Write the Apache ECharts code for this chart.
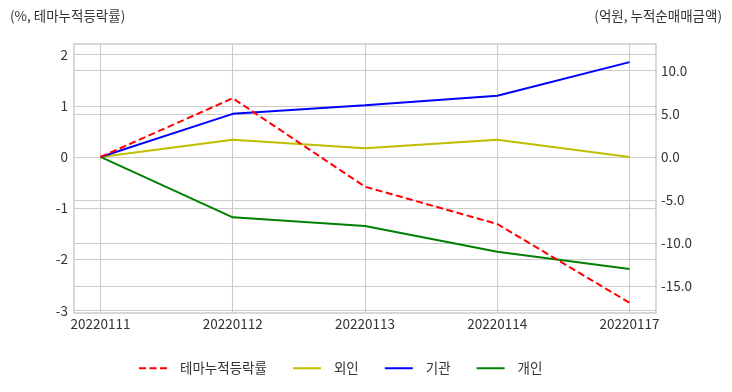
<!DOCTYPE html>
<html><head><meta charset="utf-8">
<script src="https://cdn.jsdelivr.net/npm/echarts@6/dist/echarts.min.js"></script>
<style>html,body{margin:0;padding:0;background:#fff}#c{width:732px;height:392px}</style>
</head><body><div id="c"></div>
<script>
const categories = ['20220111','20220112','20220113','20220114','20220117'];
const themeReturn = [0, 1.15, -0.58, -1.31, -2.85];
const foreign = [0, 2.0, 1.0, 2.0, 0];
const institution = [0, 5.0, 6.0, 7.1, 11.0];
const individual = [0, -7.0, -8.0, -11.0, -13.0];
const leftTicks = [-3, -2, -1, 0, 1, 2];
const rightTicks = [-15, -10, -5, 0, 5, 10];
const seriesNames = ['테마누적등락률', '외인', '기관', '개인'];

const font = "'Noto Sans CJK KR', 'Noto Sans', sans-serif";
const toPairs = arr => arr.map((v, i) => [i, v]);
const xIdx = categories.map((c, i) => i);

const chart = echarts.init(document.getElementById('c'));
chart.setOption({
  animation: false,
  backgroundColor: '#ffffff',
  textStyle: {fontFamily: font},
  title: [
    {text: '(%, 테마누적등락률)', left: 10, top: 9, padding: 0,
     textStyle: {fontSize: 13.5, fontWeight: 'normal', color: '#333', fontFamily: font}},
    {text: '(억원, 누적순매매금액)', right: 10, top: 9, padding: 0,
     textStyle: {fontSize: 13.5, fontWeight: 'normal', color: '#333', fontFamily: font}}
  ],
  grid: {left: 74, right: 76, top: 44, bottom: 79, show: true,
         borderColor: '#cccccc', borderWidth: 1.5, backgroundColor: 'transparent'},
  legend: {
    bottom: 17, left: 138, padding: 0, itemWidth: 28, itemHeight: 14, itemGap: 25,
    data: seriesNames,
    itemStyle: {opacity: 0},
    textStyle: {fontSize: 13.5, color: '#333', fontFamily: font, padding: [0, 0, 0, 8]}
  },
  xAxis: {
    type: 'value', min: -0.2, max: 4.2,
    axisLine: {show: false}, axisTick: {show: false, customValues: xIdx},
    axisLabel: {customValues: xIdx, formatter: v => categories[Math.round(v)] || '',
      fontSize: 13.5, color: '#333', margin: 4, fontFamily: font},
    splitLine: {show: true, lineStyle: {color: '#cccccc', width: 1.1}}
  },
  yAxis: [
    {type: 'value', min: -3.05, max: 2.21,
     axisLine: {show: false}, axisTick: {show: false, customValues: leftTicks},
     axisLabel: {customValues: leftTicks, fontSize: 13.5, color: '#333', margin: 6, fontFamily: font},
     splitLine: {show: true, lineStyle: {color: '#cccccc', width: 1.1}}},
    {type: 'value', min: -18.1, max: 13.1, position: 'right',
     axisLine: {show: false}, axisTick: {show: false, customValues: rightTicks},
     axisLabel: {customValues: rightTicks, formatter: v => v.toFixed(1), fontSize: 13.5, color: '#333', margin: 5, fontFamily: font},
     splitLine: {show: true, lineStyle: {color: '#cccccc', width: 1.1}}}
  ],
  series: [
    {name: seriesNames[1], type: 'line', yAxisIndex: 1, data: toPairs(foreign), symbol: 'none',
     lineStyle: {color: '#bfbf00', width: 2}, itemStyle: {color: '#bfbf00'}},
    {name: seriesNames[2], type: 'line', yAxisIndex: 1, data: toPairs(institution), symbol: 'none',
     lineStyle: {color: '#0000ff', width: 2}, itemStyle: {color: '#0000ff'}},
    {name: seriesNames[3], type: 'line', yAxisIndex: 1, data: toPairs(individual), symbol: 'none',
     lineStyle: {color: '#008000', width: 2}, itemStyle: {color: '#008000'}},
    {name: seriesNames[0], type: 'line', yAxisIndex: 0, data: toPairs(themeReturn), symbol: 'none', z: 5,
     lineStyle: {color: '#ff0000', width: 2, type: [7, 3.5]}, itemStyle: {color: '#ff0000'}}
  ]
});
</script></body></html>
